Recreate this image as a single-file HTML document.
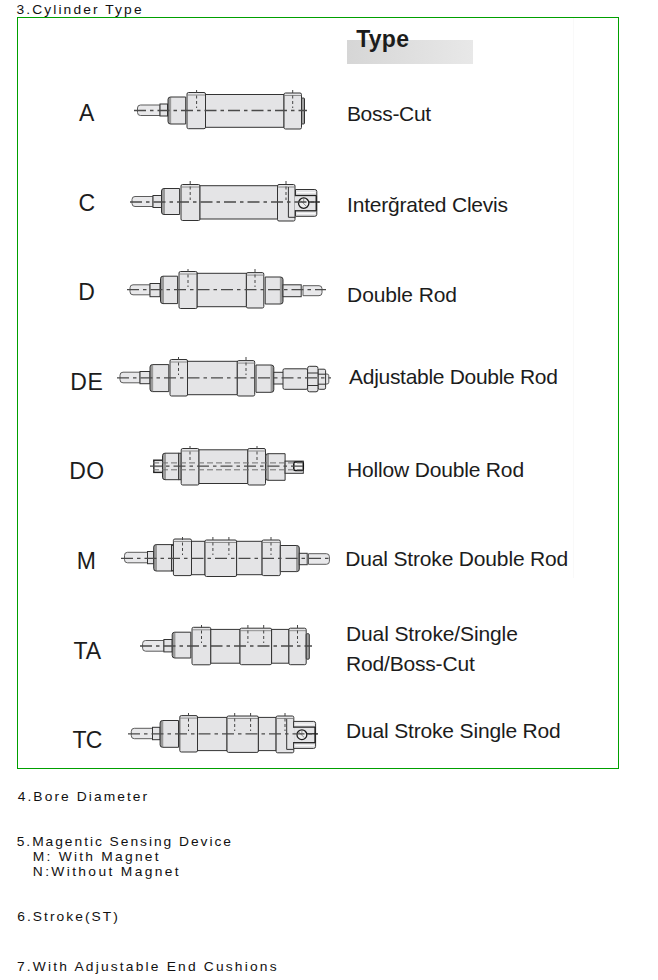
<!DOCTYPE html>
<html><head><meta charset="utf-8"><style>
html,body{margin:0;padding:0;background:#fff;}
body{width:658px;height:980px;position:relative;overflow:hidden;font-family:"Liberation Sans",sans-serif;}
.box{position:absolute;left:17px;top:17px;width:600px;height:750px;border:1px solid #00a000;}
.vl{position:absolute;left:573px;top:18px;width:1px;height:560px;background:#f9f9f9;}
.typebg{position:absolute;left:347px;top:40px;width:126px;height:24px;background:linear-gradient(to right,#d6d6d6,#e8e8e8);}
svg{position:absolute;left:0;top:0;}
svg rect, svg path, svg circle{fill:#e4e4e6;stroke:#333333;stroke-width:1;}
svg .rd{stroke:#5c5c5c;fill:#e8e8ea;}
svg .bd{fill:#9a9a9a;stroke:none;}
svg .hf{stroke:none;}
svg .nf{fill:none;}
svg line{stroke:#333333;stroke-width:1;}
svg .t{stroke:#777;stroke-width:0.8;}
svg .vd{stroke:#444;stroke-width:1;stroke-dasharray:3 2.5;}
svg .cl{stroke:#4a4a4a;stroke-width:1.3;stroke-dasharray:12 4 3.5 4;}
svg .hd{stroke:#707070;stroke-width:1;stroke-dasharray:6 3;}
</style></head><body>
<div class="box"></div>
<div class="vl"></div>
<div class="typebg"></div>
<svg width="658" height="980" viewBox="0 0 658 980">
<path class="rd" d="M160,105 H140.5 Q137.5,105 137.5,108 V112.5 Q137.5,115.5 140.5,115.5 H160 Z"/>
<rect x="160" y="104" width="7.50" height="12.00" />
<path class="bd" d="M170.5,97 H171.5 V124 H170.5 Q168,124 168,121.5 V99.5 Q168,97 170.5,97 Z"/>
<path class="hf" d="M171.5,97 H185.7 V124 H171.5 Z"/>
<path class="nf" d="M185.7,97 H170.5 Q168,97 168,99.5 V121.5 Q168,124 170.5,124 H185.7 Z"/>
<rect x="187" y="92.5" width="18.50" height="36.20" rx="1.5"/>
<line class="t" x1="187" y1="95.0" x2="205.5" y2="95.0"/>
<rect x="205.5" y="94.5" width="78.50" height="32.80" />
<rect x="284" y="93" width="17.50" height="36.00" rx="1.5"/>
<line class="t" x1="284" y1="95.5" x2="301.5" y2="95.5"/>
<rect x="301.5" y="98" width="3.00" height="26.00" rx="1" style="fill:#a0a0a0"/>
<line class="vd" x1="196.6" y1="90" x2="196.6" y2="108"/>
<line class="vd" x1="292.7" y1="90" x2="292.7" y2="108"/>
<line class="cl" x1="134" y1="110.5" x2="307" y2="110.5"/>
<path class="rd" d="M153,196.5 H135 Q132,196.5 132,199.5 V203.5 Q132,206.5 135,206.5 H153 Z"/>
<rect x="153" y="195.5" width="8.50" height="12.00" />
<path class="bd" d="M164.0,188.5 H165.0 V214.5 H164.0 Q161.5,214.5 161.5,212.0 V191.0 Q161.5,188.5 164.0,188.5 Z"/>
<path class="hf" d="M165.0,188.5 H179.6 V214.5 H165.0 Z"/>
<path class="nf" d="M179.6,188.5 H164.0 Q161.5,188.5 161.5,191.0 V212.0 Q161.5,214.5 164.0,214.5 H179.6 Z"/>
<rect x="181" y="184.5" width="19.00" height="36.00" rx="1.5"/>
<line class="t" x1="181" y1="187.0" x2="200" y2="187.0"/>
<rect x="200" y="185.7" width="77.50" height="33.30" />
<rect x="277.5" y="184.5" width="17.50" height="36.50" rx="1.5"/>
<line class="t" x1="277.5" y1="187.0" x2="295" y2="187.0"/>
<line x1="288.4" y1="187.0" x2="288.4" y2="217.3"/>
<line x1="288.4" y1="217.3" x2="295.5" y2="217.3"/>
<path d="M295.5,189.5 H314.8 Q316.8,189.5 316.8,191.5 V214.3 Q316.8,216.3 314.8,216.3 H295.5 Z"/>
<rect x="294.6" y="196.2" width="1.8" height="13.90" style="stroke:none"/>
<line x1="295.5" y1="195.5" x2="316.3" y2="195.5" style="stroke:#222;stroke-width:1.3"/>
<line x1="295.5" y1="210.8" x2="316.3" y2="210.8" style="stroke:#222;stroke-width:1.3"/>
<line x1="316.3" y1="195.5" x2="316.3" y2="210.8" style="stroke:#222;stroke-width:1.5"/>
<line class="t" x1="297.0" y1="192.5" x2="315.3" y2="192.5" style="stroke:#fafafa;stroke-width:1"/>
<line class="t" x1="297.0" y1="213.55" x2="315.3" y2="213.55" style="stroke:#fafafa;stroke-width:1"/>
<circle cx="303.7" cy="203.1" r="5.2" style="fill:#eeeeee;stroke:#1a1a1a;stroke-width:1.3"/>
<line class="t" x1="300.58" y1="200.5" x2="306.3" y2="206.22"/>
<line class="t" x1="303.7" y1="197.9" x2="303.7" y2="203.1"/>
<line x1="308.9" y1="202" x2="318.8" y2="202" style="stroke:#222;stroke-width:1.3"/>
<line class="vd" x1="190.2" y1="181" x2="190.2" y2="200"/>
<line class="vd" x1="286" y1="181" x2="286" y2="200"/>
<line class="cl" x1="130" y1="202" x2="320" y2="202"/>
<path class="rd" d="M150,284.8 H133 Q130,284.8 130,287.8 V291.8 Q130,294.8 133,294.8 H150 Z"/>
<rect x="150" y="283.5" width="10.00" height="13.20" />
<path class="bd" d="M163.0,276.2 H164.0 V303.6 H163.0 Q160.5,303.6 160.5,301.1 V278.7 Q160.5,276.2 163.0,276.2 Z"/>
<path class="hf" d="M164.0,276.2 H177.6 V303.6 H164.0 Z"/>
<path class="nf" d="M177.6,276.2 H163.0 Q160.5,276.2 160.5,278.7 V301.1 Q160.5,303.6 163.0,303.6 H177.6 Z"/>
<rect x="179" y="271.5" width="18.20" height="37.00" rx="1.5"/>
<line class="t" x1="179" y1="274.0" x2="197.2" y2="274.0"/>
<rect x="197.2" y="273.3" width="49.20" height="33.40" />
<rect x="246.4" y="272.6" width="17.40" height="35.40" rx="1.5"/>
<line class="t" x1="246.4" y1="275.1" x2="263.8" y2="275.1"/>
<path class="bd" d="M280.5,277 H279.5 V304 H280.5 Q283,304 283,301.5 V279.5 Q283,277 280.5,277 Z"/>
<path class="hf" d="M279.5,277 H265.2 V304 H279.5 Z"/>
<path class="nf" d="M265.2,277 H280.5 Q283,277 283,279.5 V301.5 Q283,304 280.5,304 H265.2 Z"/>
<rect x="283" y="284.8" width="18.20" height="11.90" />
<path class="rd" d="M303,285.7 H319 Q322,285.7 322,288.7 V292.7 Q322,295.7 319,295.7 H303 Z"/>
<line class="vd" x1="188" y1="269" x2="188" y2="287"/>
<line class="vd" x1="255" y1="269" x2="255" y2="287"/>
<line class="cl" x1="127" y1="289.7" x2="326" y2="289.7"/>
<path class="rd" d="M140,372.2 H123 Q120,372.2 120,375.2 V379.8 Q120,382.8 123,382.8 H140 Z"/>
<rect x="140" y="371.5" width="10.00" height="12.20" />
<path class="bd" d="M152.5,364.6 H153.5 V391.6 H152.5 Q150,391.6 150,389.1 V367.1 Q150,364.6 152.5,364.6 Z"/>
<path class="hf" d="M153.5,364.6 H168.8 V391.6 H153.5 Z"/>
<path class="nf" d="M168.8,364.6 H152.5 Q150,364.6 150,367.1 V389.1 Q150,391.6 152.5,391.6 H168.8 Z"/>
<rect x="170" y="359.5" width="17.50" height="36.50" rx="1.5"/>
<line class="t" x1="170" y1="362.0" x2="187.5" y2="362.0"/>
<rect x="187.5" y="361.3" width="49.80" height="33.40" />
<rect x="237.3" y="360.6" width="17.40" height="35.40" rx="1.5"/>
<line class="t" x1="237.3" y1="363.1" x2="254.7" y2="363.1"/>
<path class="bd" d="M271.3,365 H270.3 V392.3 H271.3 Q273.8,392.3 273.8,389.8 V367.5 Q273.8,365 271.3,365 Z"/>
<path class="hf" d="M270.3,365 H256 V392.3 H270.3 Z"/>
<path class="nf" d="M256,365 H271.3 Q273.8,365 273.8,367.5 V389.8 Q273.8,392.3 271.3,392.3 H256 Z"/>
<rect x="273.8" y="372.3" width="9.70" height="11.70" />
<rect x="283" y="368.8" width="24.60" height="20.50" rx="1.5"/>
<path class="rd" d="M325,374 H327.0 Q328.8,374 328.8,375.8 V382.2 Q328.8,384 327.0,384 H325 Z"/>
<rect x="318" y="369.2" width="7.60" height="20.10" rx="1.5"/>
<line x1="318" y1="374.2" x2="325.6" y2="374.2"/><line x1="318" y1="384.2" x2="325.6" y2="384.2"/>
<rect x="307.6" y="366.3" width="10.40" height="25.50" rx="2"/>
<line x1="307.6" y1="373" x2="318" y2="373"/><line x1="307.6" y1="385.5" x2="318" y2="385.5"/>
<line class="vd" x1="178.5" y1="357" x2="178.5" y2="375"/>
<line class="vd" x1="246" y1="357" x2="246" y2="375"/>
<line class="cl" x1="117" y1="377.8" x2="331" y2="377.8"/>
<rect x="153.8" y="460.2" width="9.2" height="12.2" style="stroke:#222;stroke-width:1.4"/>
<rect x="155.5" y="463.8" width="6" height="1.6" style="fill:#fafafa;stroke:none"/>
<rect x="155.5" y="468.2" width="6" height="1.6" style="fill:#fafafa;stroke:none"/>
<line x1="163" y1="460.2" x2="163" y2="472.4" style="stroke:#111;stroke-width:2"/>
<path class="bd" d="M165.0,453.2 H166.0 V479.7 H165.0 Q162.5,479.7 162.5,477.2 V455.7 Q162.5,453.2 165.0,453.2 Z"/>
<path class="hf" d="M166.0,453.2 H178.7 V479.7 H166.0 Z"/>
<path class="nf" d="M178.7,453.2 H165.0 Q162.5,453.2 162.5,455.7 V477.2 Q162.5,479.7 165.0,479.7 H178.7 Z"/>
<rect x="178.7" y="453.2" width="2.50" height="26.50" style="fill:#c4c4c4"/>
<rect x="181.2" y="448.5" width="17.80" height="36.50" rx="1.5"/>
<line class="t" x1="181.2" y1="451.0" x2="199" y2="451.0"/>
<rect x="199" y="449.8" width="48.80" height="33.70" />
<rect x="247.8" y="448.5" width="17.70" height="36.50" rx="1.5"/>
<line class="t" x1="247.8" y1="451.0" x2="265.5" y2="451.0"/>
<path class="bd" d="M268.0,453.7 H269.0 V480.3 H268.0 Q265.5,480.3 265.5,477.8 V456.2 Q265.5,453.7 268.0,453.7 Z"/>
<path class="hf" d="M269.0,453.7 H285.1 V480.3 H269.0 Z"/>
<path class="nf" d="M285.1,453.7 H268.0 Q265.5,453.7 265.5,456.2 V477.8 Q265.5,480.3 268.0,480.3 H285.1 Z"/>
<rect x="285.1" y="461.1" width="18.20" height="12.20" />
<rect x="293.8" y="462" width="9.5" height="8.5" rx="1.5" style="fill:#f2f2f2;stroke:#111;stroke-width:1.5"/>
<line class="hd" x1="153" y1="462.9" x2="303" y2="462.9"/>
<line class="hd" x1="153" y1="469.8" x2="303" y2="469.8"/>
<line class="cl" x1="150" y1="466.2" x2="306" y2="466.2"/>
<line class="vd" x1="190" y1="446" x2="190" y2="460"/>
<line class="vd" x1="257" y1="446" x2="257" y2="460"/>
<path class="rd" d="M147.5,552.3 H127.5 Q124.5,552.3 124.5,555.3 V559.8 Q124.5,562.8 127.5,562.8 H147.5 Z"/>
<rect x="147.5" y="551.5" width="6.20" height="12.20" />
<path class="bd" d="M156.2,544.6 H157.2 V571 H156.2 Q153.7,571 153.7,568.5 V547.1 Q153.7,544.6 156.2,544.6 Z"/>
<path class="hf" d="M157.2,544.6 H171.5 V571 H157.2 Z"/>
<path class="nf" d="M171.5,544.6 H156.2 Q153.7,544.6 153.7,547.1 V568.5 Q153.7,571 156.2,571 H171.5 Z"/>
<rect x="171.5" y="544.6" width="1.90" height="26.40" />
<rect x="173.4" y="539" width="18.10" height="36.60" rx="1.5"/>
<line class="t" x1="173.4" y1="541.5" x2="191.5" y2="541.5"/>
<rect x="191.5" y="541.3" width="13.50" height="33.40" />
<rect x="205" y="540" width="31.60" height="36.50" rx="1.5"/>
<line class="t" x1="205" y1="542.5" x2="236.6" y2="542.5"/>
<rect x="236.6" y="541.3" width="25.50" height="33.40" />
<rect x="262.1" y="540" width="18.20" height="35.60" rx="1.5"/>
<line class="t" x1="262.1" y1="542.5" x2="280.3" y2="542.5"/>
<path class="bd" d="M296.8,545.5 H295.8 V571.6 H296.8 Q299.3,571.6 299.3,569.1 V548.0 Q299.3,545.5 296.8,545.5 Z"/>
<path class="hf" d="M295.8,545.5 H280.3 V571.6 H295.8 Z"/>
<path class="nf" d="M280.3,545.5 H296.8 Q299.3,545.5 299.3,548.0 V569.1 Q299.3,571.6 296.8,571.6 H280.3 Z"/>
<rect x="299.3" y="553.3" width="7.90" height="11.40" />
<path class="rd" d="M308.5,553.7 H326.4 Q329.4,553.7 329.4,556.7 V561.3 Q329.4,564.3 326.4,564.3 H308.5 Z"/>
<line class="vd" x1="182.5" y1="537" x2="182.5" y2="555"/>
<line class="vd" x1="212.9" y1="537" x2="212.9" y2="555"/>
<line class="vd" x1="228.9" y1="537" x2="228.9" y2="555"/>
<line class="vd" x1="271" y1="537" x2="271" y2="555"/>
<line class="cl" x1="121" y1="558.3" x2="332" y2="558.3"/>
<path class="rd" d="M163.9,640.5 H145.6 Q142.6,640.5 142.6,643.5 V648.2 Q142.6,651.2 145.6,651.2 H163.9 Z"/>
<rect x="163.9" y="639.5" width="8.30" height="12.40" />
<path class="bd" d="M174.7,632.2 H175.7 V658 H174.7 Q172.2,658 172.2,655.5 V634.7 Q172.2,632.2 174.7,632.2 Z"/>
<path class="hf" d="M175.7,632.2 H190.8 V658 H175.7 Z"/>
<path class="nf" d="M190.8,632.2 H174.7 Q172.2,632.2 172.2,634.7 V655.5 Q172.2,658 174.7,658 H190.8 Z"/>
<rect x="192" y="627.3" width="18.80" height="37.50" rx="1.5"/>
<line class="t" x1="192" y1="629.8" x2="210.8" y2="629.8"/>
<rect x="210.8" y="629.4" width="29.20" height="33.80" />
<rect x="240" y="628.2" width="31.60" height="36.50" rx="1.5"/>
<line class="t" x1="240" y1="630.7" x2="271.6" y2="630.7"/>
<rect x="271.6" y="629.4" width="17.30" height="33.80" />
<rect x="288.9" y="628.2" width="17.30" height="36.50" rx="1.5"/>
<line class="t" x1="288.9" y1="630.7" x2="306.2" y2="630.7"/>
<rect x="306.2" y="633.7" width="3.10" height="25.50" rx="1" style="fill:#a0a0a0"/>
<line class="vd" x1="201.5" y1="625" x2="201.5" y2="643"/>
<line class="vd" x1="247.9" y1="625" x2="247.9" y2="643"/>
<line class="vd" x1="263.7" y1="625" x2="263.7" y2="643"/>
<line class="vd" x1="297.5" y1="625" x2="297.5" y2="643"/>
<line class="cl" x1="140" y1="646" x2="312" y2="646"/>
<path class="rd" d="M152.5,728.3 H134.3 Q131.3,728.3 131.3,731.3 V735.7 Q131.3,738.7 134.3,738.7 H152.5 Z"/>
<rect x="152.5" y="727.3" width="7.60" height="12.40" />
<path class="bd" d="M162.6,720.5 H163.6 V747.3 H162.6 Q160.1,747.3 160.1,744.8 V723.0 Q160.1,720.5 162.6,720.5 Z"/>
<path class="hf" d="M163.6,720.5 H178.5 V747.3 H163.6 Z"/>
<path class="nf" d="M178.5,720.5 H162.6 Q160.1,720.5 160.1,723.0 V744.8 Q160.1,747.3 162.6,747.3 H178.5 Z"/>
<rect x="179.8" y="715.6" width="17.70" height="36.40" rx="1.5"/>
<line class="t" x1="179.8" y1="718.1" x2="197.5" y2="718.1"/>
<rect x="197.5" y="717.4" width="29.50" height="33.20" />
<rect x="227" y="716" width="31.40" height="36.40" rx="1.5"/>
<line class="t" x1="227" y1="718.5" x2="258.4" y2="718.5"/>
<rect x="258.4" y="717.4" width="17.70" height="33.20" />
<rect x="276.1" y="716" width="17.70" height="36.80" rx="1.5"/>
<line class="t" x1="276.1" y1="718.5" x2="293.8" y2="718.5"/>
<line x1="286.7" y1="718.9" x2="286.7" y2="749.4"/>
<line x1="286.7" y1="749.4" x2="293.6" y2="749.4"/>
<path d="M293.6,721.4 H313.6 Q315.6,721.4 315.6,723.4 V746.4 Q315.6,748.4 313.6,748.4 H293.6 Z"/>
<rect x="292.70000000000005" y="727.8000000000001" width="1.8" height="14.20" style="stroke:none"/>
<line x1="293.6" y1="727.1" x2="315.1" y2="727.1" style="stroke:#222;stroke-width:1.3"/>
<line x1="293.6" y1="742.7" x2="315.1" y2="742.7" style="stroke:#222;stroke-width:1.3"/>
<line x1="315.1" y1="727.1" x2="315.1" y2="742.7" style="stroke:#222;stroke-width:1.5"/>
<line class="t" x1="295.1" y1="724.25" x2="314.1" y2="724.25" style="stroke:#fafafa;stroke-width:1"/>
<line class="t" x1="295.1" y1="745.55" x2="314.1" y2="745.55" style="stroke:#fafafa;stroke-width:1"/>
<circle cx="301.9" cy="734.7" r="4.9" style="fill:#eeeeee;stroke:#1a1a1a;stroke-width:1.3"/>
<line class="t" x1="298.96" y1="732.25" x2="304.34999999999997" y2="737.6400000000001"/>
<line class="t" x1="301.9" y1="729.8000000000001" x2="301.9" y2="734.7"/>
<line x1="306.79999999999995" y1="733.8" x2="317.6" y2="733.8" style="stroke:#222;stroke-width:1.3"/>
<line class="vd" x1="188.5" y1="713" x2="188.5" y2="731"/>
<line class="vd" x1="234.7" y1="713" x2="234.7" y2="731"/>
<line class="vd" x1="250.6" y1="713" x2="250.6" y2="731"/>
<line class="vd" x1="285" y1="713" x2="285" y2="731"/>
<line class="cl" x1="128" y1="733.8" x2="318" y2="733.8"/>
<g font-family="Liberation Sans">
<text transform="translate(79.1,121) scale(1.0,1)" font-size="23" font-weight="normal" fill="#1c1c1c" style="letter-spacing:0.0px">A</text>
<text transform="translate(78.6,210.5) scale(1.0,1)" font-size="23" font-weight="normal" fill="#1c1c1c" style="letter-spacing:0.0px">C</text>
<text transform="translate(78.2,300) scale(1.0,1)" font-size="23" font-weight="normal" fill="#1c1c1c" style="letter-spacing:0.0px">D</text>
<text transform="translate(70.2,390) scale(1.0,1)" font-size="23" font-weight="normal" fill="#1c1c1c" style="letter-spacing:0.6px">DE</text>
<text transform="translate(69.3,479) scale(1.0,1)" font-size="23" font-weight="normal" fill="#1c1c1c" style="letter-spacing:0.4px">DO</text>
<text transform="translate(76.8,569) scale(1.0,1)" font-size="23" font-weight="normal" fill="#1c1c1c" style="letter-spacing:0.0px">M</text>
<text transform="translate(73.5,658.7) scale(1.0,1)" font-size="23" font-weight="normal" fill="#1c1c1c" style="letter-spacing:-0.1px">TA</text>
<text transform="translate(72.4,748) scale(1.0,1)" font-size="23" font-weight="normal" fill="#1c1c1c" style="letter-spacing:-0.8px">TC</text>
<text transform="translate(346.9,121) scale(1.0,1)" font-size="21" font-weight="normal" fill="#1c1c1c" style="letter-spacing:-0.3px">Boss-Cut</text>
<text transform="translate(347.1,211.8) scale(1.0,1)" font-size="21" font-weight="normal" fill="#1c1c1c" style="letter-spacing:-0.212px">Inter&#287;rated Clevis</text>
<text transform="translate(347.1,301.7) scale(1.0,1)" font-size="21" font-weight="normal" fill="#1c1c1c" style="letter-spacing:-0.122px">Double Rod</text>
<text transform="translate(349.1,383.7) scale(1.0,1)" font-size="21" font-weight="normal" fill="#1c1c1c" style="letter-spacing:-0.305px">Adjustable Double Rod</text>
<text transform="translate(347.0,476.7) scale(1.0,1)" font-size="21" font-weight="normal" fill="#1c1c1c" style="letter-spacing:-0.169px">Hollow Double Rod</text>
<text transform="translate(345.3,565.5) scale(1.0,1)" font-size="21" font-weight="normal" fill="#1c1c1c" style="letter-spacing:-0.167px">Dual Stroke Double Rod</text>
<text transform="translate(346.0,641.4) scale(1.0,1)" font-size="21" font-weight="normal" fill="#1c1c1c" style="letter-spacing:-0.124px">Dual Stroke/Single</text>
<text transform="translate(346.0,670.6) scale(1.0,1)" font-size="21" font-weight="normal" fill="#1c1c1c" style="letter-spacing:-0.182px">Rod/Boss-Cut</text>
<text transform="translate(346.0,738.3) scale(1.0,1)" font-size="21" font-weight="normal" fill="#1c1c1c" style="letter-spacing:-0.167px">Dual Stroke Single Rod</text>
<text transform="translate(356.2,47.3) scale(1.0,1)" font-size="23" font-weight="bold" fill="#1c1c1c" style="letter-spacing:0.267px">Type</text>
<text transform="translate(16.5,14) scale(1.15,1)" font-size="12" font-weight="normal" fill="#111" style="letter-spacing:1.832px">3.Cylinder Type</text>
<text transform="translate(17.7,801) scale(1.15,1)" font-size="12" font-weight="normal" fill="#111" style="letter-spacing:1.807px">4.Bore Diameter</text>
<text transform="translate(16.7,846) scale(1.15,1)" font-size="12" font-weight="normal" fill="#111" style="letter-spacing:1.71px">5.Magentic Sensing Device</text>
<text transform="translate(32.8,861) scale(1.15,1)" font-size="12" font-weight="normal" fill="#111" style="letter-spacing:1.953px">M: With Magnet</text>
<text transform="translate(32.8,876) scale(1.15,1)" font-size="12" font-weight="normal" fill="#111" style="letter-spacing:2.058px">N:Without Magnet</text>
<text transform="translate(17.3,921) scale(1.15,1)" font-size="12" font-weight="normal" fill="#111" style="letter-spacing:1.771px">6.Stroke(ST)</text>
<text transform="translate(17.0,971) scale(1.15,1)" font-size="12" font-weight="normal" fill="#111" style="letter-spacing:1.898px">7.With Adjustable End Cushions</text>
</g>
</svg>
</body></html>
